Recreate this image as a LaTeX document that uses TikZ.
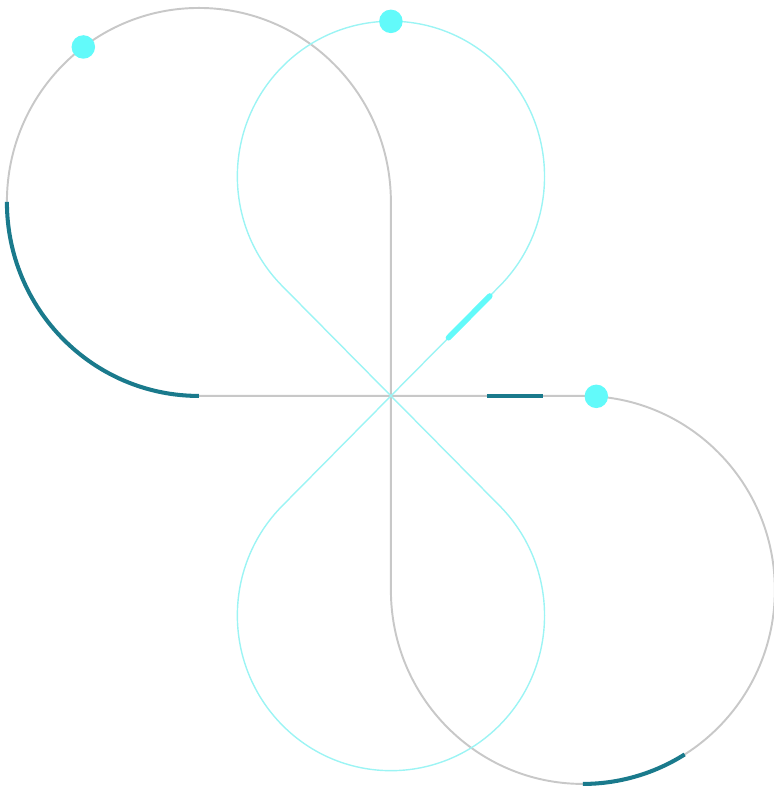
\documentclass[tikz,border=0pt]{standalone}

\definecolor{trackgray}{HTML}{C8C8C8}
\definecolor{loopcyan}{HTML}{9CF4F4}
\definecolor{dotcyan}{HTML}{62FAFA}
\definecolor{darkteal}{HTML}{1A7A8C}

\tikzset{
    track/.style={draw=trackgray, line width=1.1pt},
    loopline/.style={draw=loopcyan, line width=0.8pt},
    highlight/.style={draw=darkteal, line width=2.3pt},
    marker/.style={circle, fill=dotcyan, inner sep=0pt, minimum size=0.47cm},
}

\begin{document}
\begin{tikzpicture}[x=3.84cm, y=3.88cm]
        \useasboundingbox (-2.036,-2.021) rectangle (1.995,2.041);

        % gray track
        \draw[track] (-1,0) -- (1,0) arc[start angle=90, end angle=-180, radius=1]
            -- (0,1) arc[start angle=0, end angle=270, radius=1] -- cycle;

        % cyan figure eight
        \draw[loopline] (0,0) -- (0.566,0.566) arc[start angle=-45, end angle=225, radius=0.8]
            -- (0.566,-0.566) arc[start angle=45, end angle=-225, radius=0.8] -- cycle;

        \draw[highlight] (-2,1) arc[start angle=180, end angle=270, radius=1];
        \draw[highlight] (0.5,0) -- (0.79,0);
        \draw[highlight] (1,-2) arc[start angle=270, end angle=302, radius=1];
        \draw[draw=dotcyan, line width=3.2pt, line cap=round] (0.3,0.3) -- (0.515,0.515);

        \node[marker] (dotleft) at (-1.602,1.799) {};
        \node[marker] (dottop) at (0,1.931) {};
        \node[marker] (dotright) at (1.070,-0.002) {};
    \end{tikzpicture}
\end{document}
